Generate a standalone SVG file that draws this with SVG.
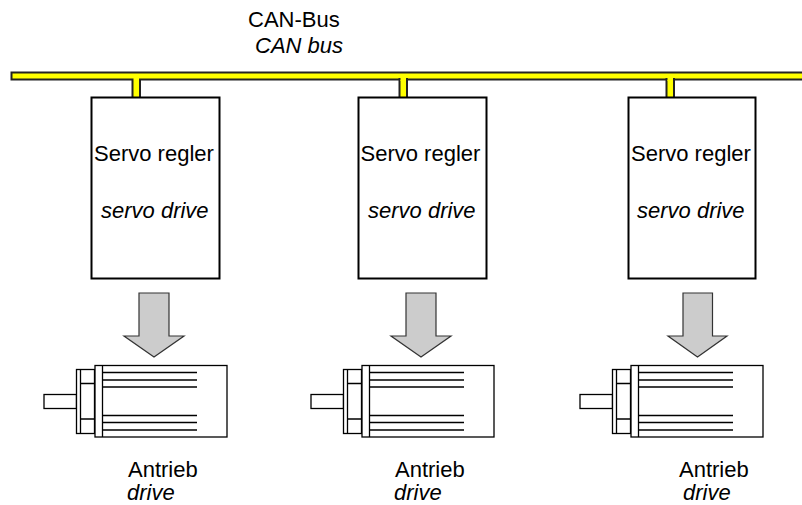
<svg xmlns="http://www.w3.org/2000/svg" width="802" height="505" viewBox="0 0 802 505">
<style>
text{font-family:"Liberation Sans",Arial,sans-serif;font-size:22px;fill:#000}
.i{font-style:italic}
.box{fill:#fff;stroke:#000;stroke-width:2}
.bus{fill:#ff0;stroke:#222;stroke-width:2}
.arrow{fill:#ccc;stroke:#333;stroke-width:1.2}
.m{fill:#fff;stroke:#000;stroke-width:1.3}
.l{fill:none;stroke:#000;stroke-width:1.3}
</style>
<defs>
<g id="motor">
<rect class="m" x="44" y="394.500" width="32.500" height="14"/>
<rect class="m" x="76.500" y="369.500" width="18" height="64"/>
<path class="l" d="M80.500 369.500V433.500M80.500 383.500H94.500M80.500 419H94.500"/>
<rect class="m" x="95" y="365.500" width="132" height="71.500"/>
<path class="l" d="M102.500 365.500V437"/>
<path class="l" d="M102.500 372.500H197M102.500 380H197M102.500 387H197M102.500 415.500H197M102.500 422.500H197M102.500 430H197"/>
</g>
</defs>
<g id="connectors">
<path class="bus" d="M11.500 72.500H803V79.500H140V98H132.500V79.500H11.500Z"/>
<path class="bus" d="M399.500 79H407V98H399.500Z"/>
<path d="M400.500 78h5.500v3h-5.500z" fill="#ff0"/>
<path class="bus" d="M666.500 79H674V98H666.500Z"/>
<path d="M667.500 78h5.500v3h-5.500z" fill="#ff0"/>
</g>
<g id="label-bus">
<text x="248" y="26.500">CAN-Bus</text>
<text class="i" x="255" y="52.500">CAN bus</text>
</g>
<g id="drive-1">
<rect class="box" x="91.500" y="97.500" width="128" height="181"/>
<text x="94" y="161">Servo regler</text>
<text class="i" x="101" y="218">servo drive</text>
</g>
<g id="drive-2">
<rect class="box" x="358.500" y="97.500" width="128" height="181"/>
<text x="360.500" y="161">Servo regler</text>
<text class="i" x="368" y="218">servo drive</text>
</g>
<g id="drive-3">
<rect class="box" x="628.500" y="97.500" width="127" height="181"/>
<text x="631" y="161">Servo regler</text>
<text class="i" x="637" y="218">servo drive</text>
</g>
<g id="arrow-1"><path class="arrow" d="M139 293H169V336H184L154 357L124 336H139Z"/></g>
<g id="arrow-2"><path class="arrow" d="M406 293H436V336H451L421 357L391 336H406Z"/></g>
<g id="arrow-3"><path class="arrow" d="M683 293H712.500V336H727L697.500 357L668 336H683Z"/></g>
<g id="motor-1"><use href="#motor"/><text x="128" y="477">Antrieb</text><text class="i" x="127" y="500">drive</text></g>
<g id="motor-2"><use href="#motor" x="267"/><text x="395" y="477">Antrieb</text><text class="i" x="394" y="500">drive</text></g>
<g id="motor-3"><use href="#motor" x="536"/><text x="679" y="477">Antrieb</text><text class="i" x="683" y="500">drive</text></g>
</svg>
